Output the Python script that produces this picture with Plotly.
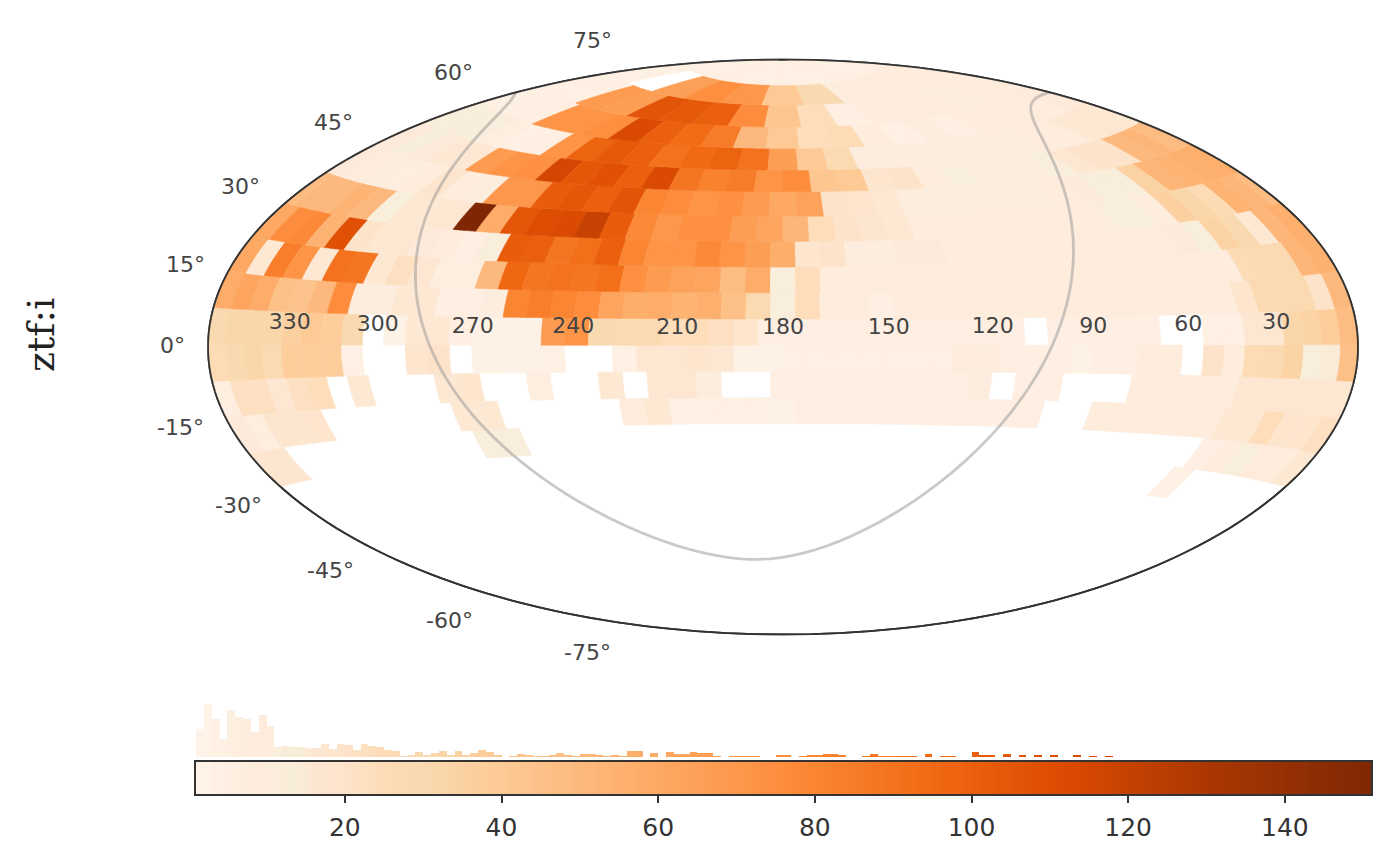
import plotly.graph_objects as go
from plotly.colors import sample_colorscale
import math

W, H = 1374, 842  # page body adds an 8px offset

# tile counts (declination rows, south to north): values per tile from RA=360 (left) to RA=0 (right)
dec_edges = [-36.5,-29.1,-21.7,-14.3,-6.9,0.5,7.9,15.3,22.7,30.1,37.5,44.9,51.6,58.5,65.5,73,80.2,89.3]
row_m5 = [0]*38 + [4] + [0]*5
row_m4 = [17,17] + [0]*9 + [12,12] + [0]*28 + [5,8,11,9,8,15]
row_m3 = [10,6,17,17,18,0,0,0,0,0,0,15,15,0,0,0,0,0,8,15,4,4,4,4,3,5,5,5,5,5,5,5,5,5,5,0,0,8,8,8,8,8,8,15,15,24,18,18,22]
row_m2 = [6,22,22,16,22,24,0,15,0,0,0,15,18,0,0,6,0,0,15,0,16,16,7,0,0,5,5,5,5,5,5,5,5,7,0,5,5,0,0,0,8,8,8,8,8,16,16,16,16,16,16]
row_m1 = [26,30,32,28,38,38,38,4,0,0,18,20,0,3,3,3,4,0,0,4,16,16,18,16,3,3,4,4,4,4,4,4,4,8,8,5,5,5,3,5,5,8,8,0,20,8,26,28,34,12,14,46]
row_p0 = [30,32,32,32,36,40,38,30,0,3,15,15,5,3,3,3,68,72,30,28,28,24,24,22,18,5,5,5,5,5,5,5,5,5,5,5,0,5,5,5,5,5,0,0,4,4,16,16,32,34,38,48]
row_p1 = [58,62,58,46,44,50,76,7,7,15,15,5,5,7,80,84,80,76,62,57,58,54,56,46,28,12,24,8,8,5,8,8,8,8,8,8,8,8,8,8,8,8,8,8,8,18,28,28,28,20,50]
row_p2 = [60,15,84,72,15,90,88,15,22,16,6,6,50,96,88,90,88,92,74,68,64,62,48,58,11,24,8,8,8,8,8,8,8,8,8,8,8,8,8,8,8,8,8,8,26,28,28,52,55]
row_p3 = [60,76,78,54,108,20,15,16,10,8,5,12,102,100,88,92,100,80,72,72,78,72,66,57,18,20,7,7,10,10,8,8,8,8,8,8,8,8,8,8,10,12,34,30,15,52,56]
row_p4 = [50,50,54,50,11,16,15,16,151,58,105,110,112,120,102,78,70,74,74,66,62,52,24,20,17,15,8,8,8,8,8,8,8,8,11,11,8,36,32,26,54,52,48]
row_p5 = [10,8,7,6,8,18,8,7,70,70,102,105,100,106,80,76,72,74,68,60,64,20,18,15,7,7,7,7,7,7,8,10,11,12,34,52,54,55,56]
row_p6 = [10,12,10,15,15,68,72,74,115,105,108,100,112,88,82,85,72,76,42,40,18,20,8,11,7,7,7,11,16,20,20,50,52,48]
row_p7 = [12,12,12,6,4,5,72,98,104,100,90,95,98,90,66,40,28,7,7,7,7,7,7,7,8,8,15,16,15]
row_p8 = [4,4,5,72,72,75,112,100,94,85,50,40,24,26,8,4,7,5,8,8,8,8,10]
row_p9 = [4,4,68,66,106,104,100,76,42,24,5,8,8,8,7,8,8]
row_p10 = [4,0,65,75,70,40,30,8,8,8,8]
row_p11 = [4,4,4,4]
rows = [row_m5,row_m4,row_m3,row_m2,row_m1,row_p0,row_p1,row_p2,row_p3,row_p4,row_p5,row_p6,row_p7,row_p8,row_p9,row_p10,row_p11]
row_shift = {9: 0.5}

# galactic plane
plane_ra = [0,345,330,315,300,285,270,255,240,225,210,192.9,170,150,130,110,100,90,75,60,45,30,12.9,0]
plane_dec = [62.3,59.9,55,46.1,29.9,4.2,-23.5,-42.4,-53,-58.8,-61.8,-62.9,-60.9,-55,-41.7,-13.6,5.6,23.5,42.4,53,58.8,61.8,62.9,62.3]

# histogram above the colour bar: bars for value bins starting at 1
hist_heights = [28,53,38,18,47,40,38,25,42,31,10,11,10,10,9,9,13,8,13,12,7,13,11,10,7,6,1,2,5,2,4,6,2,6,2,4,7,5,2,0,1,3,2,1,
 1,2,4,2,1,3,3,2,1,2,1,6,6,0,4,0,5,3,3,5,4,4,1,0,1,1,1,1,0,0,2,2,0,1,2,2,3,3,2,0,0,1,3,1,1,1,1,1,0,3,0,1,1,0,0,5,1.5,1.5,0,3,0,2,0,2,0,2,0,0,2,0,1,0,1]

ra_labels = ['330','300','270','240','210','180','150','120','90','60','30']
ra_values = [330,300,270,240,210,180,150,120,90,60,30]
lat_labels = ['75°','60°','45°','30°','15°','0°','-15°','-30°','-45°','-60°','-75°']
lat_px = [(592,40),(453,72),(333,122),(241,187),(185,264),(172,345),(180,427),(238,505),(330,570),(449,620),(587,652)]
cbar_ticks = [20,40,60,80,100,120,140]
vmin, vmax = 1, 151

scale_stops = [(1,'rgb(255,244,234)'),(4,'rgb(254,240,227)'),(6,'rgb(253,238,224)'),(10,'rgb(254,234,219)'),(11,'rgb(249,238,220)'),
 (14.5,'rgb(248,236,216)'),(15,'rgb(253,232,212)'),(20,'rgb(253,227,202)'),(25,'rgb(253,220,182)'),(30,'rgb(249,217,176)'),
 (38,'rgb(253,205,155)'),(57,'rgb(253,174,107)'),(76,'rgb(253,141,60)'),(95,'rgb(241,105,19)'),(113,'rgb(217,72,1)'),(132,'rgb(166,54,3)'),(151,'rgb(127,39,4)')]
cs = [[(v-vmin)/(vmax-vmin), c] for v, c in scale_stops]

def colour(v):
    return sample_colorscale(cs, [(v-vmin)/(vmax-vmin)], colortype='rgb')[0]
def fx(x): return (x-8)/W
def fy(y): return 1-(y-8)/H

fig = go.Figure()
for idx, row in enumerate(rows):
    n = len(row)
    lo, hi = dec_edges[idx], dec_edges[idx+1]
    w = 360/n
    s = row_shift.get(idx, 0)
    for i, v in enumerate(row):
        if not v:
            continue
        a = -180+(i+s)*w
        b = a+w
        spans = [(a,b)] if b <= 180 else [(a,180),(-180,b-360)]
        c = colour(v)
        for p, q in spans:
            lons = [p+(q-p)*j/8 for j in range(9)]
            fig.add_trace(go.Scattergeo(lon=lons+lons[::-1]+[p], lat=[hi]*9+[lo]*9+[hi], mode='lines', fill='toself',
                fillcolor=c, line=dict(width=0.6,color=c), hoverinfo='skip', showlegend=False))

line_style = dict(width=2.8,color='rgba(150,150,150,0.5)')
fig.add_trace(go.Scattergeo(lon=[180-r for r in plane_ra[:12]], lat=plane_dec[:12], mode='lines', line=line_style, hoverinfo='skip', showlegend=False))
fig.add_trace(go.Scattergeo(lon=[180-r for r in plane_ra[11:]], lat=plane_dec[11:], mode='lines', line=line_style, hoverinfo='skip', showlegend=False))
# sky outline on top of the tiles
edge_lat = list(range(-90,91,3))
for edge_lon in (-179.99,179.99):
    fig.add_trace(go.Scattergeo(lon=[edge_lon]*len(edge_lat), lat=edge_lat, mode='lines', line=dict(width=1.8,color='#333'), hoverinfo='skip', showlegend=False))
fig.add_trace(go.Scattergeo(lon=[180-r for r in ra_values], lat=[5.2]*len(ra_values), text=ra_labels, mode='text',
    textfont=dict(family='DejaVu Sans',size=22,color='#444'), hoverinfo='skip', showlegend=False))

# histogram
hist_x = [vmin+j+0.5 for j in range(len(hist_heights))]
fig.add_trace(go.Bar(x=hist_x, y=hist_heights, width=1, marker=dict(color=hist_x,colorscale=cs,cmin=vmin,cmax=vmax,line=dict(width=0)),
    xaxis='x', yaxis='y', hoverinfo='skip', showlegend=False))
# colour bar
bar_x = [vmin+j+0.5 for j in range(vmax-vmin)]
fig.add_trace(go.Heatmap(x=bar_x, y=[0], z=[bar_x], colorscale=cs, zmin=vmin, zmax=vmax, showscale=False, xaxis='x2', yaxis='y2', hoverinfo='skip'))

annos = [dict(x=fx(x),y=fy(y),xref='paper',yref='paper',text=t,showarrow=False,xanchor='center',yanchor='middle',
              font=dict(family='DejaVu Sans',size=22,color='#444')) for t,(x,y) in zip(lat_labels,lat_px)]
annos.append(dict(x=fx(41),y=fy(335),xref='paper',yref='paper',text='ztf:i',textangle=-90,showarrow=False,xanchor='center',yanchor='middle',
              font=dict(family='DejaVu Serif',size=38,color='#222')))

fig.update_layout(width=W,height=H,margin=dict(l=0,r=0,t=0,b=0),paper_bgcolor='white',plot_bgcolor='white',showlegend=False,annotations=annos,bargap=0,
 geo=dict(domain=dict(x=[fx(208),fx(1358)],y=[fy(635),fy(59)]),projection=dict(type='hammer'),showframe=True,framecolor='#333',framewidth=1.8,
  showcoastlines=False,showland=False,showocean=False,showlakes=False,showrivers=False,showcountries=False,showsubunits=False,bgcolor='rgba(0,0,0,0)',
  lonaxis=dict(showgrid=False),lataxis=dict(showgrid=False)),
 xaxis=dict(domain=[fx(196),fx(1371)],range=[vmin,vmax],visible=False,fixedrange=True),
 yaxis=dict(domain=[fy(757),fy(702)],range=[0,55],visible=False,fixedrange=True),
 xaxis2=dict(domain=[fx(196),fx(1371)],range=[vmin,vmax],anchor='y2',tickvals=cbar_ticks,ticks='outside',ticklen=7,tickwidth=1.6,tickcolor='#333',ticklabelstandoff=3,
   showline=True,linecolor='#333',linewidth=1.6,mirror=True,showgrid=False,zeroline=False,tickfont=dict(family='DejaVu Sans',size=25,color='#333'),fixedrange=True),
 yaxis2=dict(domain=[fy(794),fy(762)],range=[-0.5,0.5],anchor='x2',showticklabels=False,ticks='',showline=True,linecolor='#333',linewidth=1.6,mirror=True,showgrid=False,zeroline=False,fixedrange=True))
fig.write_html("out.html")
